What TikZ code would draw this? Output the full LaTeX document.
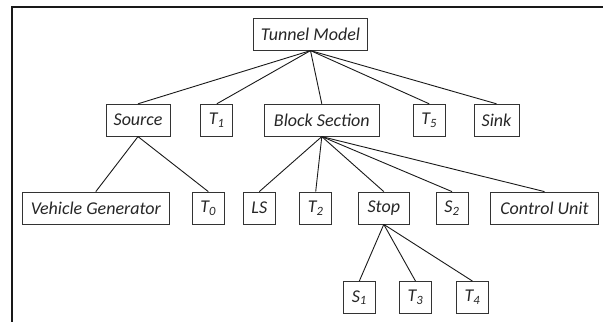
\documentclass[tikz,border=0pt]{standalone}
\usepackage{fontspec}
\setmainfont{Carlito}
\begin{document}
\begin{tikzpicture}[x=1pt,y=-1pt,
  box/.style={draw=black!80, line width=0.8pt, minimum height=32pt, inner xsep=2pt, inner ysep=0pt,
    font=\fontsize{18}{20}\selectfont\itshape, text=black!85},
  edge/.style={draw=black!90, line width=0.9pt},
  frame/.style={draw=black!90, line width=2pt}]
\useasboundingbox (0,0) rectangle (603,322);
% open frame: top and left rules
\coordinate (fr) at (603,7);
\coordinate (fc) at (12,7);
\coordinate (fb) at (12,322);
\draw[frame] (fr) -- (fc) -- (fb);
% level 0
\node[box, minimum width=114pt] (tm) at (310.5,34.2) {Tunnel Model};
% level 1
\node[box, minimum width=64pt]  (src)  at (138,120.2)   {Source};
\node[box, minimum width=32pt]  (t1)   at (216.8,120.2) {T\textsubscript{1}};
\node[box, minimum width=115pt] (bs)   at (321.8,120.2) {Block Section};
\node[box, minimum width=32pt]  (t5)   at (429.2,120.2) {T\textsubscript{5}};
\node[box, minimum width=45pt]  (sink) at (496.5,120.2) {Sink};
% level 2
\node[box, minimum width=147pt] (vg)   at (95.8,208)  {Vehicle Generator};
\node[box, minimum width=31.5pt](t0)   at (208.3,208) {T\textsubscript{0}};
\node[box, minimum width=31.5pt](ls)   at (259.3,208) {LS};
\node[box, minimum width=32pt]  (t2)   at (315.7,208) {T\textsubscript{2}};
\node[box, minimum width=51pt]  (stop) at (383.8,208) {Stop};
\node[box, minimum width=32pt]  (s2)   at (452,208)   {S\textsubscript{2}};
\node[box, minimum width=108pt] (cu)   at (544.5,208) {Control Unit};
% level 3
\node[box, minimum width=32pt]  (s1)   at (359.3,297.5) {S\textsubscript{1}};
\node[box, minimum width=32pt]  (t3)   at (415.5,297.5) {T\textsubscript{3}};
\node[box, minimum width=32pt]  (t4)   at (472.5,297.5) {T\textsubscript{4}};
% connectors
\foreach \c in {src,t1,bs,t5,sink} \draw[edge] (tm.south) -- (\c.north);
\foreach \c in {vg,t0} \draw[edge] (src.south) -- (\c.north);
\foreach \c in {ls,t2,stop,s2,cu} \draw[edge] (bs.south) -- (\c.north);
\foreach \c in {s1,t3,t4} \draw[edge] (stop.south) -- (\c.north);
\end{tikzpicture}
\end{document}
